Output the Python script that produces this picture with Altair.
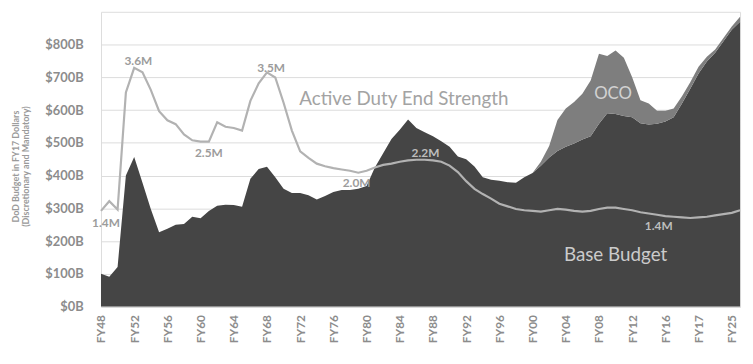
import altair as alt
import pandas as pd

# ---------------- data ----------------
years = list(range(1948, 2026))

base_budget = [100, 91, 121, 400, 457, 378, 298, 227, 238, 250,
               252, 274, 270, 292, 308, 311, 310, 305, 390, 420,
               427, 395, 360, 347, 347, 340, 327, 338, 350, 356,
               356, 360, 368, 425, 468, 512, 540, 571, 545, 532,
               520, 505, 488, 458, 450, 428, 395, 387, 384, 380,
               378, 395, 408, 430, 455, 475, 488, 498, 510, 520,
               558, 590, 588, 582, 578, 560, 556, 558, 565, 578,
               620, 665, 712, 748, 775, 810, 845, 870]

oco_years = list(range(2000, 2026))
oco_budget = [0, 12, 35, 95, 117, 127, 140, 170, 214, 175,
              194, 178, 122, 70, 64, 40, 33, 27, 22, 20,
              20, 15, 10, 10, 10, 15]

end_strength = [1.38, 1.53, 1.40, 3.21, 3.59, 3.52, 3.25, 2.92, 2.78, 2.72,
                2.56, 2.47, 2.45, 2.45, 2.75, 2.68, 2.66, 2.62, 3.08, 3.35,
                3.52, 3.44, 3.05, 2.62, 2.30, 2.20, 2.11, 2.07, 2.04, 2.02,
                2.00, 1.97, 2.00, 2.05, 2.09, 2.11, 2.14, 2.16, 2.17, 2.17,
                2.16, 2.14, 2.08, 1.98, 1.84, 1.72, 1.64, 1.57, 1.49, 1.45,
                1.41, 1.39, 1.38, 1.37, 1.39, 1.41, 1.40, 1.38, 1.37, 1.38,
                1.41, 1.43, 1.43, 1.41, 1.39, 1.36, 1.34, 1.32, 1.30, 1.29,
                1.28, 1.27, 1.28, 1.29, 1.31, 1.33, 1.35, 1.39]

tick_years = [1948, 1952, 1956, 1960, 1964, 1968, 1972, 1976, 1980, 1984,
              1988, 1992, 1996, 2000, 2004, 2008, 2012, 2016, 2020, 2024]
tick_labels = ["FY48", "FY52", "FY56", "FY60", "FY64", "FY68", "FY72", "FY76",
               "FY80", "FY84", "FY88", "FY92", "FY96", "FY00", "FY04", "FY08",
               "FY12", "FY16", "FY17", "FY25"]
y_ticks = [0, 100, 200, 300, 400, 500, 600, 700, 800]

series_names = ["Base Budget", "OCO"]
series_colors = ["#454545", "#7e7e7e"]

# strength labels (on white) and (on dark)
light_lbl_text = ["3.6M", "1.4M", "2.5M", "3.5M", "2.0M"]
light_lbl_year = [1952.5, 1948.6, 1961.0, 1968.5, 1978.8]
light_lbl_val = [749, 254, 468, 728, 378]

dark_lbl_text = ["2.2M", "1.4M"]
dark_lbl_year = [1987.1, 2015.2]
dark_lbl_val = [468, 245]

# ---------------- tables ----------------
oco_map = dict(zip(oco_years, oco_budget))
rows = []
for yr, b in zip(years, base_budget):
    rows.append({"year": yr, "series": series_names[0], "ord": 0, "value": b})
    rows.append({"year": yr, "series": series_names[1], "ord": 1, "value": oco_map.get(yr, 0)})
df_area = pd.DataFrame(rows)
df_line = pd.DataFrame({"year": years, "strength": end_strength})
df_light = pd.DataFrame({"year": light_lbl_year, "value": light_lbl_val, "text": light_lbl_text})
df_dark = pd.DataFrame({"year": dark_lbl_year, "value": dark_lbl_val, "text": dark_lbl_text})

FONT = "Lato"
x_scale = alt.Scale(domain=[1948, 2025], nice=False, zero=False)
budget_scale = alt.Scale(domain=[0, 900], nice=False, zero=True)

labels_js = "[" + ",".join("'%s'" % t for t in tick_labels) + "]"
years_js = "[" + ",".join(str(t) for t in tick_years) + "]"

x_axis = alt.Axis(
    values=tick_years,
    labelExpr=labels_js + "[indexof(" + years_js + ", datum.value)]",
    labelAngle=270, labelFont=FONT, labelFontSize=12, labelFontWeight="bold",
    labelColor="#8c8c8c", labelPadding=8, labelOverlap=False, labelBound=False,
    labelFlush=False, ticks=False, grid=False, domainColor="#d4d4d4", title=None,
)
y_axis = alt.Axis(
    values=y_ticks,
    labelExpr="'$' + datum.value + 'B'",
    labelFont=FONT, labelFontSize=13, labelFontWeight="bold", labelColor="#8c8c8c",
    labelPadding=18, ticks=False, domain=False, labelOverlap=False,
    grid=True, gridColor="#dcdcdc", gridWidth=1,
    title=["DoD Budget in FY17 Dollars", "(Discretionary and Mandatory)"],
    titleFont=FONT, titleFontSize=9, titleFontWeight="bold", titleColor="#9a9a9a",
    titleX=-86, titleY=156, titleAngle=270, titleAlign="center", titleBaseline="middle",
    titleLineHeight=10,
)


def xenc():
    return alt.X("year:Q", scale=x_scale, axis=x_axis)


area = alt.Chart(df_area).mark_area(interpolate="linear").encode(
    x=xenc(),
    y=alt.Y("value:Q", stack="zero", scale=budget_scale, axis=y_axis),
    color=alt.Color("series:N", scale=alt.Scale(domain=series_names, range=series_colors), legend=None),
    order=alt.Order("ord:Q"),
)

line = alt.Chart(df_line).mark_line(color="#b2b2b2", strokeWidth=2.2).encode(
    x=xenc(),
    y=alt.Y("strength:Q", scale=alt.Scale(domain=[-0.098, 4.455], nice=False, zero=False), axis=None),
)

light_txt = alt.Chart(df_light).mark_text(
    font=FONT, fontSize=12, fontWeight="bold", color="#9c9c9c"
).encode(
    x=xenc(),
    y=alt.Y("value:Q", scale=budget_scale, axis=None),
    text="text:N",
)

dark_txt = alt.Chart(df_dark).mark_text(
    font=FONT, fontSize=12, fontWeight="bold", color="#bdbdbd"
).encode(
    x=xenc(),
    y=alt.Y("value:Q", scale=budget_scale, axis=None),
    text="text:N",
)

series_lbl_text = ["Active Duty End Strength", "OCO", "Base Budget"]
series_lbl_year = [1984.5, 2009.7, 2010.0]
series_lbl_val = [634, 650, 157]
series_lbl_color = ["#a3a3a3", "#d2d2d2", "#cbcbcb"]
series_lbl_size = [19, 17, 19]

title_layers = []
for t, yr, v, c, s in zip(series_lbl_text, series_lbl_year, series_lbl_val, series_lbl_color, series_lbl_size):
    d = pd.DataFrame({"year": [yr], "value": [v], "text": [t]})
    title_layers.append(
        alt.Chart(d).mark_text(font=FONT, fontSize=s, color=c).encode(
            x=xenc(),
            y=alt.Y("value:Q", scale=budget_scale, axis=None),
            text="text:N",
        )
    )

chart = alt.layer(area, line, light_txt, dark_txt, *title_layers).resolve_scale(
    y="independent"
).properties(
    width=646, height=298,
    autosize=alt.AutoSizeParams(type="none"),
    padding={"left": 94, "top": 2, "right": 5, "bottom": 40},
).configure_view(stroke=None).configure(background="white").configure_axis(
    labelOverlap=False
)

chart.save("out.html", embed_options={"renderer": "svg", "actions": False})
